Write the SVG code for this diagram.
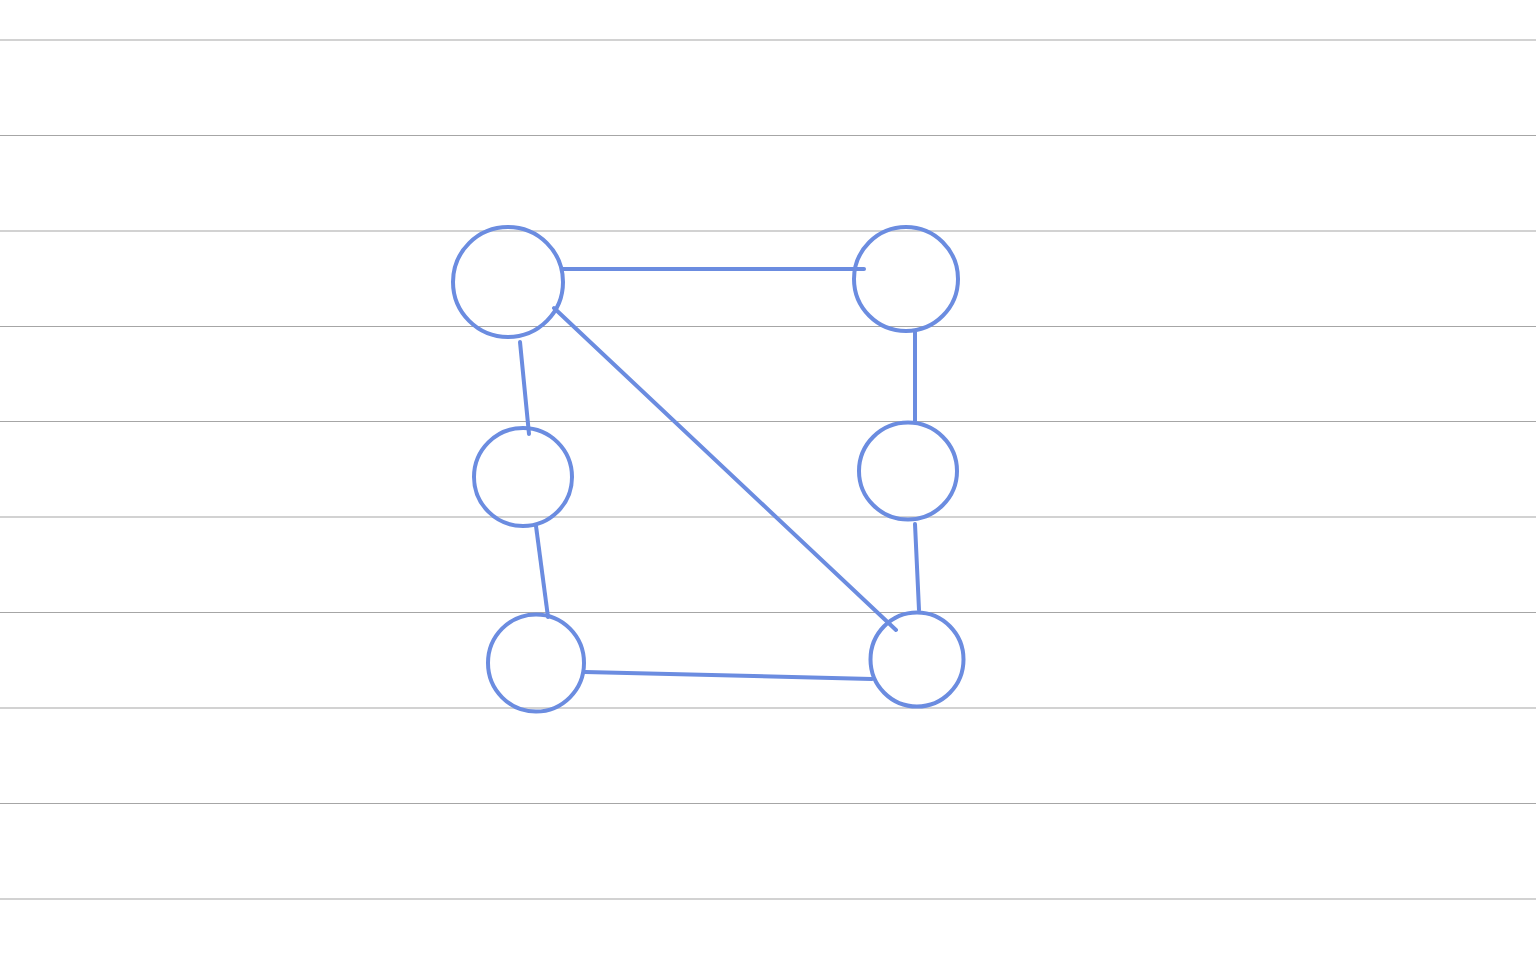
<svg xmlns="http://www.w3.org/2000/svg" width="1536" height="960" viewBox="0 0 1536 960">
<style>
.rule{stroke:#a6a6a6;stroke-width:1.2}
.n{fill:none;stroke:#6b8ce0;stroke-width:4}
.e{fill:none;stroke:#6b8ce0;stroke-width:4;stroke-linecap:round}
</style>
<rect width="1536" height="960" fill="#ffffff"/>
<g id="rules">
<line class="rule" x1="0" y1="40" x2="1536" y2="40"/>
<line class="rule" x1="0" y1="135.5" x2="1536" y2="135.5"/>
<line class="rule" x1="0" y1="231" x2="1536" y2="231"/>
<line class="rule" x1="0" y1="326.5" x2="1536" y2="326.5"/>
<line class="rule" x1="0" y1="421.5" x2="1536" y2="421.5"/>
<line class="rule" x1="0" y1="517" x2="1536" y2="517"/>
<line class="rule" x1="0" y1="612.5" x2="1536" y2="612.5"/>
<line class="rule" x1="0" y1="708" x2="1536" y2="708"/>
<line class="rule" x1="0" y1="803.5" x2="1536" y2="803.5"/>
<line class="rule" x1="0" y1="899" x2="1536" y2="899"/>
</g>
<g id="connectors">
<line class="e" x1="563" y1="269" x2="864" y2="269"/>
<line class="e" x1="915" y1="331" x2="915" y2="422"/>
<line class="e" x1="520" y1="342" x2="529" y2="434"/>
<line class="e" x1="536" y1="526" x2="548" y2="617"/>
<line class="e" x1="585" y1="672" x2="872" y2="679"/>
<line class="e" x1="554" y1="308" x2="896" y2="630"/>
<line class="e" x1="915" y1="524" x2="919" y2="610"/>
</g>
<g id="n1"><ellipse class="n" cx="508" cy="282" rx="55" ry="55"/></g>
<g id="n2"><ellipse class="n" cx="906" cy="279" rx="52" ry="52"/></g>
<g id="n3"><ellipse class="n" cx="523" cy="477" rx="49" ry="49"/></g>
<g id="n4"><ellipse class="n" cx="908" cy="471" rx="49" ry="48.5"/></g>
<g id="n5"><ellipse class="n" cx="536" cy="663" rx="48" ry="48.5"/></g>
<g id="n6"><ellipse class="n" cx="917" cy="659.5" rx="46.5" ry="47"/></g>
</svg>
